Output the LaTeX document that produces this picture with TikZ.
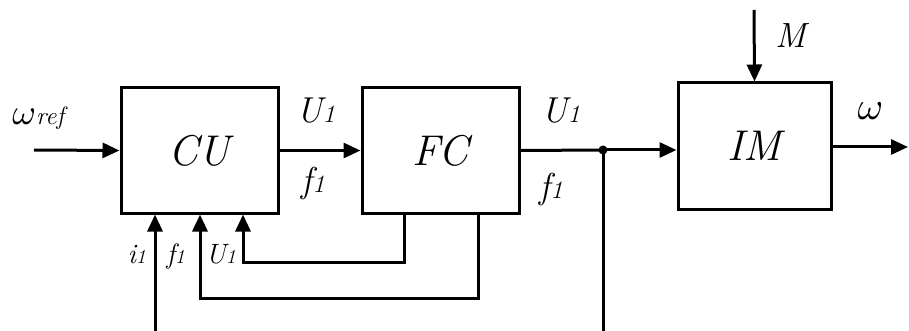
\documentclass[tikz,border=0pt]{standalone}
\usepackage{graphicx}
\usetikzlibrary{arrows.meta}
\newcommand\fsz[1]{\fontsize{#1}{#1}\selectfont}
\newcommand\bigomega[1]{\scalebox{#1}{\normalsize$\omega$}}
\begin{document}
\begin{tikzpicture}[x=1pt,y=-1pt,line width=3pt,
  blk/.style={draw,line width=3pt,inner sep=0pt,font=\fsz{43}\itshape},
  arr/.style={-{Triangle[length=17pt,width=15pt]}},
  lbl/.style={anchor=base west,inner sep=0pt,font=\fsz{36}\itshape},
  slbl/.style={anchor=base west,inner sep=0pt,font=\fsz{28}\itshape}]
\useasboundingbox[fill=white] (0,0) rectangle (909,331);

% blocks
\node[blk,minimum width=157pt,minimum height=125pt] (cu) at (199.5,150.5) {CU};
\node[blk,minimum width=157pt,minimum height=125pt] (fc) at (440.5,150.5) {FC};
\node[blk,minimum width=153pt,minimum height=126pt] (im) at (754.5,146) {IM};

% branch point
\node[circle,fill,inner sep=0pt,minimum size=9pt] (jn) at (603,150) {};

% free ends
\coordinate (win) at (34,150);
\coordinate (wout) at (908,147);
\coordinate (mtop) at (754,10);
\coordinate (ibot) at (155,331);
\coordinate (jbot) at (603,331);
\coordinate (fa) at (478,213);
\coordinate (fb) at (478,298);
\coordinate (fcc) at (200,298);
\coordinate (ua) at (404,213);
\coordinate (ub) at (404,262);
\coordinate (uc) at (243,262);

% forward path
\draw[arr] (win) -- (cu.west);
\draw[arr] (cu.east) -- (fc.west);
\draw (fc.east) -- (jn.center);
\draw[arr] (jn.center) -- (jn.center -| im.west);
\draw (jn.center) -- (jbot);
\draw[arr] (im.east |- wout) -- (wout);
\draw[arr] (mtop) -- (im.north);

% feedback into CU
\draw[arr] (ibot) -- (ibot |- cu.south);
\draw[arr] (fa) -- (fb) -- (fcc) -- (fcc |- cu.south);
\draw[arr] (ua) -- (ub) -- (uc) -- (uc |- cu.south);

% labels
\node[anchor=base west,inner sep=0pt] (lwref) at (11,125)
  {\bigomega{3.6}\itshape\fsz{25}ref};
\node[lbl] (lu1) at (295,123) {U\fsz{25}1};
\node[lbl] (lf1) at (300,192) {f\fsz{25}1};
\node[lbl] (lu2) at (540,123) {U\fsz{25}1};
\node[lbl] (lf2) at (538,198) {f\fsz{25}1};
\node[anchor=base west,inner sep=0pt] (lw) at (856,120) {\bigomega{3.9}};
\node[lbl,font=\fsz{35}\itshape] (lm) at (774,48) {M};
\node[slbl] (li) at (126,263) {i\fsz{20}1};
\node[slbl] (lf3) at (165,263) {f\fsz{20}1};
\node[slbl] (lu3) at (204,263) {U\fsz{20}1};
\end{tikzpicture}
\end{document}
